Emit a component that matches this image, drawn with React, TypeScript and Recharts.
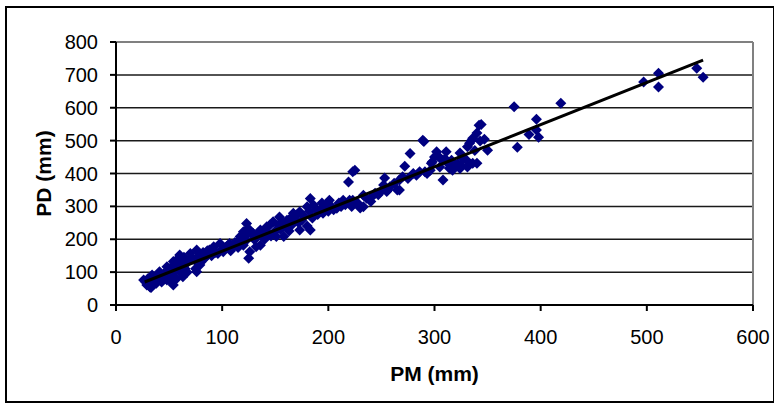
import React from 'react';
import {
  ScatterChart,
  Scatter,
  XAxis,
  YAxis,
  CartesianGrid,
  ReferenceLine,
} from 'recharts';

const xTicks = [0, 100, 200, 300, 400, 500, 600];
const yTicks = [0, 100, 200, 300, 400, 500, 600, 700, 800];

// PM (mm), PD (mm) pairs
const lowPoints = [
  [26, 76], [28, 70], [29, 61], [30, 80], [32, 55], [33, 53], [34, 91], [35, 72], [36, 65],
  [38, 66], [38, 85], [40, 78], [41, 101], [42, 90], [43, 70], [44, 86], [45, 95], [46, 80],
  [48, 76], [48, 116], [49, 100], [50, 88], [51, 112], [52, 70], [53, 95], [54, 61], [54, 132],
  [55, 105], [56, 120], [57, 80], [58, 140], [59, 127], [60, 152], [60, 101], [61, 115],
  [62, 130], [63, 86], [64, 145], [65, 110], [66, 125], [67, 100], [68, 135],
];

const midPoints = [
  [70, 157], [72, 140], [74, 137], [75, 110], [76, 167], [76, 101], [78, 150], [79, 122],
  [80, 130], [82, 160], [84, 145], [85, 147], [86, 165], [88, 167], [90, 150], [92, 177],
  [94, 160], [96, 157], [98, 187], [100, 170], [101, 162], [103, 175], [105, 180], [107, 187],
  [108, 165], [110, 177], [112, 190], [114, 192], [115, 175], [117, 208], [118, 195],
  [120, 223], [120, 182], [122, 210], [123, 248], [123, 228], [123, 198], [125, 142],
  [126, 228], [126, 162], [128, 215], [129, 218], [130, 200], [132, 203], [132, 177], [134, 220],
  [136, 228], [136, 182], [138, 215], [140, 200], [142, 238], [143, 220], [145, 243], [146, 210],
  [148, 253], [150, 225], [151, 208], [153, 243], [154, 268], [155, 230], [157, 250], [158, 208],
  [160, 240], [161, 258], [163, 225], [164, 263], [166, 245], [167, 279], [168, 260], [170, 274],
  [172, 250], [173, 284], [173, 228], [175, 258], [177, 270], [180, 299], [180, 240], [182, 285],
  [183, 324], [183, 228], [185, 265], [186, 304], [188, 290], [190, 275], [192, 289], [194, 310],
  [195, 279], [197, 295], [198, 304], [200, 285], [201, 319], [203, 300], [205, 290], [208, 294],
  [210, 310], [212, 300], [214, 319], [216, 305], [219, 374], [220, 319], [222, 300], [223, 405],
  [223, 319], [225, 410], [227, 309], [228, 309], [230, 295], [233, 299], [233, 334],
];

const highPoints = [
  [236, 325], [240, 315], [241, 329], [244, 340], [247, 335], [249, 344], [252, 365], [253, 386],
  [255, 345], [256, 350], [258, 360], [262, 370], [265, 350], [267, 350], [267, 380], [270, 390],
  [272, 422], [275, 385], [277, 461], [280, 400], [283, 395], [286, 405], [289, 501], [290, 497],
  [291, 405], [293, 400], [296, 410], [297, 431], [298, 436], [300, 450], [302, 466], [303, 455],
  [305, 420], [307, 441], [308, 380], [310, 445], [311, 466], [313, 430], [314, 416], [316, 440],
  [317, 410], [320, 425], [322, 430], [324, 462], [324, 415], [325, 425], [327, 445], [330, 441],
  [331, 420], [331, 481], [333, 492], [335, 501], [336, 431], [336, 507], [338, 470], [340, 523],
  [340, 431], [342, 547], [343, 499], [344, 549], [347, 504], [350, 471],
  [375, 603], [378, 480], [389, 519], [396, 565], [396, 532], [398, 510], [419, 614],
  [497, 678], [511, 705], [511, 663], [547, 720], [553, 693],
];

const trendX = [27, 553];
const trendY = [70, 745];

const points = [...lowPoints, ...midPoints, ...highPoints].map(([x, y]) => ({ x, y }));
const trend = trendX.map((x, i) => ({ x, y: trendY[i] }));

const font = '"Liberation Sans", Arial, sans-serif';

const Diamond = (props: any) => {
  const { cx, cy } = props;
  const r = 5.5;
  return (
    <polygon
      points={`${cx},${cy - r} ${cx + r},${cy} ${cx},${cy + r} ${cx - r},${cy}`}
      fill="#000080"
    />
  );
};

export default function App() {
  return (
    <div style={{ position: 'absolute', left: 0, top: 0, width: 774, height: 407, background: '#fff', fontFamily: font }}>
      <div
        style={{
          position: 'absolute',
          left: 5,
          top: 6,
          width: 766,
          height: 393,
          border: '2px solid #000',
        }}
      />
      <div style={{ position: 'absolute', left: 0, top: 0 }}>
        <ScatterChart width={774} height={407} margin={{ top: 42, right: 21, bottom: 72, left: 56 }}>
          <CartesianGrid horizontal vertical={false} stroke="#1a1a1a" strokeWidth={1.5} />
          <ReferenceLine y={800} stroke="#808080" strokeWidth={2} />
          <ReferenceLine x={600} stroke="#808080" strokeWidth={2} />
          <XAxis
            type="number"
            dataKey="x"
            domain={[0, 600]}
            ticks={xTicks}
            interval={0}
            height={30}
            tickSize={6}
            tickMargin={19}
            axisLine={{ stroke: '#000', strokeWidth: 2 }}
            tickLine={{ stroke: '#000', strokeWidth: 2 }}
            tick={{ fill: '#000', fontSize: 20, fontFamily: font }}
            label={{
              content: (p: any) => {
                const vb = p.viewBox;
                return (
                  <text
                    x={vb.x + vb.width / 2}
                    y={vb.y + 76}
                    textAnchor="middle"
                    fontSize={21}
                    fontWeight="bold"
                    fontFamily={font}
                    fill="#000"
                  >
                    PM (mm)
                  </text>
                );
              },
            }}
          />
          <YAxis
            type="number"
            dataKey="y"
            domain={[0, 800]}
            ticks={yTicks}
            interval={0}
            width={60}
            tickSize={6}
            tickMargin={12}
            axisLine={{ stroke: '#000', strokeWidth: 2 }}
            tickLine={{ stroke: '#000', strokeWidth: 2 }}
            tick={{ fill: '#000', fontSize: 20, fontFamily: font }}
            label={{
              content: (p: any) => {
                const vb = p.viewBox;
                const cx = vb.x - 13;
                const cy = vb.y + vb.height / 2;
                return (
                  <text
                    x={cx}
                    y={cy}
                    transform={`rotate(-90 ${cx} ${cy})`}
                    textAnchor="middle"
                    dominantBaseline="central"
                    fontSize={21}
                    fontWeight="bold"
                    fontFamily={font}
                    fill="#000"
                  >
                    PD (mm)
                  </text>
                );
              },
            }}
          />
          <Scatter data={points} shape={<Diamond />} isAnimationActive={false} />
          <Scatter
            data={trend}
            line={{ stroke: '#000', strokeWidth: 3 }}
            shape={() => null}
            isAnimationActive={false}
          />
        </ScatterChart>
      </div>
    </div>
  );
}
